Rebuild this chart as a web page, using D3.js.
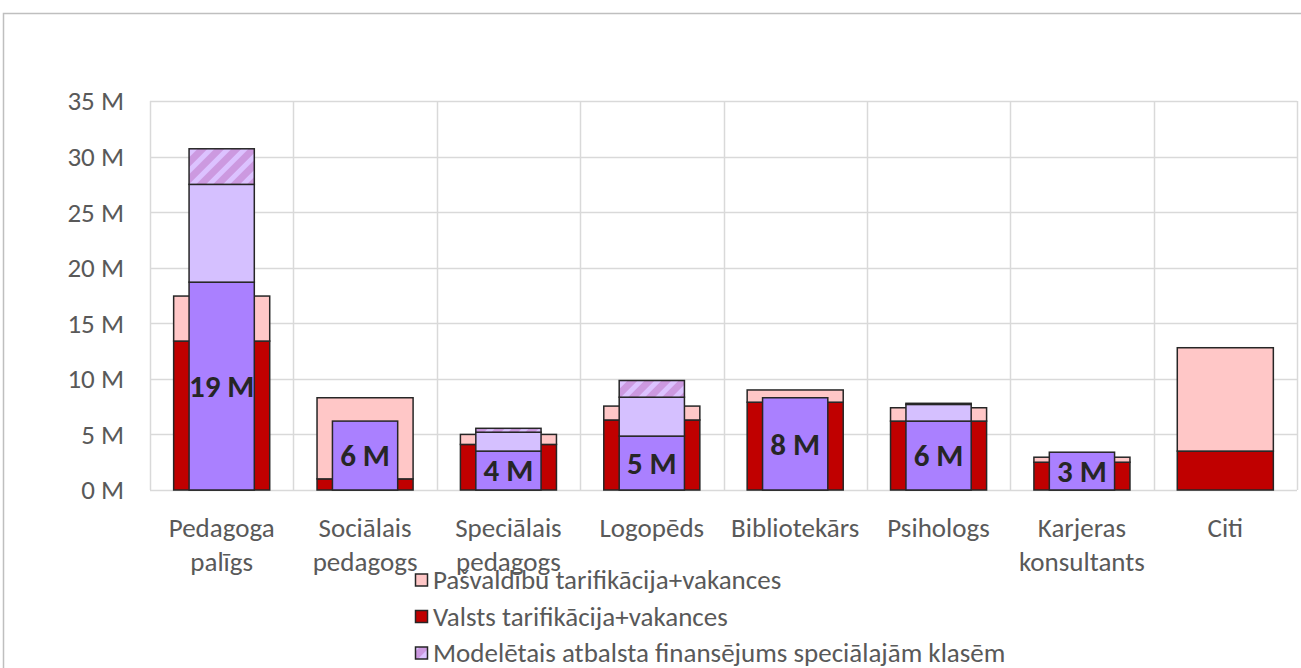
<!DOCTYPE html>
<html>
<head>
<meta charset="utf-8">
<script src="https://cdn.jsdelivr.net/npm/d3@7.9.0/dist/d3.min.js"></script>
<style>
  html, body { margin: 0; padding: 0; background: #fff; }
  svg { display: block; font-family: Carlito, Calibri, "Open Sans", sans-serif; }
</style>
</head>
<body>
<svg id="chart" width="1301" height="668"></svg>
<script>
// Categories (x-axis), split into lines the way they are printed
const categories = ["Pedagoga palīgs", "Sociālais pedagogs", "Speciālais pedagogs", "Logopēds",
  "Bibliotekārs", "Psihologs", "Karjeras konsultants", "Citi"];
const categoryLines = [["Pedagoga", "palīgs"], ["Sociālais", "pedagogs"], ["Speciālais", "pedagogs"],
  ["Logopēds"], ["Bibliotekārs"], ["Psihologs"], ["Karjeras", "konsultants"], ["Citi"]];

// Wide bars (millions EUR)
const valsts = [13.4, 1.0, 4.1, 6.3, 7.9, 6.2, 2.5, 3.5];
const pasvaldibu = [4.05, 7.3, 0.9, 1.25, 1.1, 1.2, 0.45, 9.3];

// Narrow bars (millions EUR)
const modeletaisBazes = [18.7, 6.2, 3.5, 4.85, 8.3, 6.2, 3.4, 0];
const modeletaisPapildu = [8.8, 0, 1.7, 3.5, 0, 1.5, 0, 0];
const modeletaisSpecKlases = [3.2, 0, 0.35, 1.5, 0, 0.1, 0, 0];

const yTicks = [0, 5, 10, 15, 20, 25, 30, 35];

const legendItems = [
  { label: "Pašvaldību tarifikācija+vakances", fill: "#FFC7C7" },
  { label: "Valsts tarifikācija+vakances", fill: "#C00000" },
  { label: "Modelētais atbalsta finansējums speciālajām klasēm", fill: "url(#hatch)" }
];

const svg = d3.select("#chart");

// Hatched pattern for the top purple segment
const defs = svg.append("defs");
const pat = defs.append("pattern")
  .attr("id", "hatch")
  .attr("patternUnits", "userSpaceOnUse")
  .attr("width", 12).attr("height", 12)
  .attr("patternTransform", "rotate(45)");
pat.append("rect").attr("width", 12).attr("height", 12).attr("fill", "#CC99E0");
pat.append("rect").attr("x", 0).attr("width", 5).attr("height", 12).attr("fill", "#DCC2FF");

// Outer frame
svg.append("rect")
  .attr("x", 3.5).attr("y", 13.5)
  .attr("width", 1320).attr("height", 700)
  .attr("fill", "none").attr("stroke", "#BFBFBF").attr("stroke-width", 1.5);

const x = d3.scaleBand().domain(categories).range([150, 1297]).padding(0);
const y = d3.scaleLinear().domain([0, 35]).range([490, 101]);

const wideW = x.bandwidth() * 0.67;
const narrowW = x.bandwidth() * 0.455;

// Gridlines
svg.append("g").selectAll("line").data(yTicks).join("line")
  .attr("x1", 150).attr("x2", 1297)
  .attr("y1", d => Math.round(y(d)) + 0.5).attr("y2", d => Math.round(y(d)) + 0.5)
  .attr("stroke", "#D9D9D9").attr("stroke-width", 1.5);

const bounds = categories.map(c => x(c)).concat([x.range()[1]]);
svg.append("g").selectAll("line").data(bounds).join("line")
  .attr("x1", d => Math.round(d) + 0.5).attr("x2", d => Math.round(d) + 0.5)
  .attr("y1", y(35)).attr("y2", y(0))
  .attr("stroke", "#D9D9D9").attr("stroke-width", 1.5);

// Y axis labels
svg.append("g").selectAll("text").data(yTicks).join("text")
  .attr("x", 124).attr("y", d => y(d))
  .attr("dy", "0.35em")
  .attr("text-anchor", "end")
  .attr("font-size", 27)
  .attr("fill", "#595959")
  .text(d => `${d} M`);

// Wide stacked bars
const wideData = categories.map((c, i) => ({ cat: c, valsts: valsts[i], pasvaldibu: pasvaldibu[i] }));
const wideStack = d3.stack().keys(["valsts", "pasvaldibu"])(wideData);
const wideColors = { valsts: "#C00000", pasvaldibu: "#FFC7C7" };

svg.append("g").selectAll("g").data(wideStack).join("g")
  .attr("fill", s => wideColors[s.key])
  .selectAll("rect").data(s => s.filter(d => d[1] - d[0] > 0)).join("rect")
  .attr("x", d => x(d.data.cat) + (x.bandwidth() - wideW) / 2)
  .attr("y", d => y(d[1]))
  .attr("width", wideW)
  .attr("height", d => y(d[0]) - y(d[1]))
  .attr("stroke", "#262626").attr("stroke-width", 1.5);

// Narrow stacked bars in front
const narrowData = categories.map((c, i) => ({
  cat: c, bazes: modeletaisBazes[i], papildu: modeletaisPapildu[i], spec: modeletaisSpecKlases[i]
}));
const narrowStack = d3.stack().keys(["bazes", "papildu", "spec"])(narrowData);
const narrowColors = { bazes: "#AA80FF", papildu: "#D5C0FF", spec: "url(#hatch)" };

svg.append("g").selectAll("g").data(narrowStack).join("g")
  .attr("fill", s => narrowColors[s.key])
  .selectAll("rect").data(s => s.filter(d => d[1] - d[0] > 0)).join("rect")
  .attr("x", d => x(d.data.cat) + (x.bandwidth() - narrowW) / 2)
  .attr("y", d => y(d[1]))
  .attr("width", narrowW)
  .attr("height", d => y(d[0]) - y(d[1]))
  .attr("stroke", "#262626").attr("stroke-width", 1.5);

// Data labels on the base purple segment
svg.append("g").selectAll("text").data(narrowData.filter(d => d.bazes > 0)).join("text")
  .attr("x", d => x(d.cat) + x.bandwidth() / 2)
  .attr("y", d => (y(0) + y(d.bazes)) / 2)
  .attr("dy", "0.35em")
  .attr("text-anchor", "middle")
  .attr("font-size", 31)
  .attr("font-weight", "bold")
  .attr("fill", "#262626")
  .text(d => `${Math.round(d.bazes)} M`);

// X axis labels
const xLab = svg.append("g").selectAll("text").data(categories).join("text")
  .attr("x", d => x(d) + x.bandwidth() / 2)
  .attr("y", 537)
  .attr("text-anchor", "middle")
  .attr("font-size", 27)
  .attr("fill", "#595959");
xLab.selectAll("tspan").data((d, i) => categoryLines[i]).join("tspan")
  .attr("x", function () { return this.parentNode.getAttribute("x"); })
  .attr("dy", (d, i) => i === 0 ? 0 : 34)
  .text(d => d);

// Legend (below the plot, partly cut off by the frame bottom)
const legend = svg.append("g").attr("transform", "translate(415,0)");
legendItems.forEach((d, i) => {
  const cy = 580 + i * 36.5;
  legend.append("rect")
    .attr("x", 0.5).attr("y", cy - 6)
    .attr("width", 12).attr("height", 12)
    .attr("fill", d.fill)
    .attr("stroke", "#262626").attr("stroke-width", 1.5);
  legend.append("text")
    .attr("x", 18).attr("y", cy)
    .attr("dy", "0.35em")
    .attr("font-size", 27)
    .attr("fill", "#595959")
    .text(d.label);
});
</script>
</body>
</html>
